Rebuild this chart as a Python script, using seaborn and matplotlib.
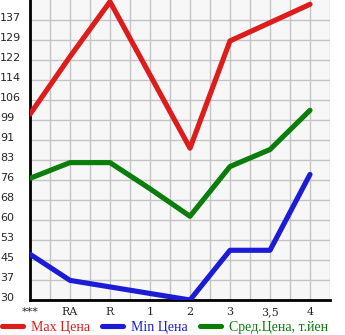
import matplotlib
matplotlib.use("Agg")
import matplotlib.pyplot as plt
import matplotlib.transforms as mtransforms
from matplotlib.lines import Line2D
import seaborn as sns
import pandas as pd
import numpy as np

categories = ["***", "RA", "R", "1", "2", "3", "3,5", "4"]
max_price = [101, 123, 144, 116, 88, 129, 136, 143]
min_price = [47.5, 37.5, 35, 32.5, 30, 49, 49, 78]
avg_price = [76.5, 82.5, 82.5, 72.5, 62, 81, 87.5, 102.5]
ytick_labels = ["30", "37", "45", "53", "60", "68", "76", "83", "91", "99",
                "106", "114", "122", "129", "137"]
series_names = ["Max Цена", "Min Цена", "Сред.Цена, т.йен"]
colors = ["#dd1c1c", "#1c1cd6", "#0a7d0a"]

rows = []
for name, vals in zip(series_names, [max_price, min_price, avg_price]):
    for c, v in zip(categories, vals):
        rows.append({"cat": c, "value": v, "series": name})
df = pd.DataFrame(rows)
df["pos"] = df["cat"].map({c: i for i, c in enumerate(categories)})

sns.set_style("white")
W, H = 345, 335
fig = plt.figure(figsize=(W / 100, H / 100), dpi=100)
ax = fig.add_axes([30 / W, 35 / H, 300 / W, 300 / H])
ax.set_facecolor("#f7f7f7")

sns.lineplot(data=df, x="pos", y="value", hue="series", palette=colors,
             hue_order=series_names, ax=ax, linewidth=3.7, legend=False,
             solid_capstyle="round", solid_joinstyle="round", zorder=3)

step = (137 - 30) / 14
ymin, ymax = 30, 30 + 15 * step
ax.set_ylim(ymin, ymax)
ax.set_xlim(0, 7.5)
yt = [30 + i * step for i in range(15)]
ax.set_yticks(yt)
ax.set_yticklabels(ytick_labels)
ax.set_xticks(range(len(categories)))
ax.set_xticklabels(categories)
ax.set_xticks(np.arange(0.5, 7.6, 1.0), minor=True)
ax.set_yticks([], minor=True)
ax.grid(True, which="both", axis="x", color="#c4c4c4", linewidth=1.0, zorder=0)
ax.grid(True, which="major", axis="y", color="#c4c4c4", linewidth=1.0, zorder=0)
ax.set_axisbelow(True)
ax.set_xlabel("")
ax.set_ylabel("")

for s in ["top", "right"]:
    ax.spines[s].set_visible(False)
for s in ["left", "bottom"]:
    ax.spines[s].set_color("black")
    ax.spines[s].set_linewidth(2.0)

ax.tick_params(axis="x", which="both", direction="out", length=3, width=1,
               color="black", pad=2, labelsize=8)
ax.tick_params(axis="y", which="both", length=0, pad=21.5, labelsize=8)
for lbl in ax.get_yticklabels():
    lbl.set_horizontalalignment("left")
    lbl.set_transform(lbl.get_transform() + mtransforms.ScaledTranslation(0, 3 / 100, fig.dpi_scale_trans))
for lbl in ax.get_xticklabels():
    lbl.set_fontfamily("DejaVu Serif")
    lbl.set_fontsize(8.0)

handles = [Line2D([0], [0], color=c, linewidth=3.7, solid_capstyle="round") for c in colors]
leg = fig.legend(handles, series_names, loc="center left", bbox_to_anchor=(0.006, 7.5 / H),
                 ncol=3, frameon=False, handlelength=1.5, handletextpad=0.6,
                 columnspacing=0.85, borderpad=0.0, borderaxespad=0.0,
                 prop={"family": "Liberation Serif", "size": 10})
for t, c in zip(leg.get_texts(), colors):
    t.set_color(c)

fig.savefig("out.png", dpi=100)
